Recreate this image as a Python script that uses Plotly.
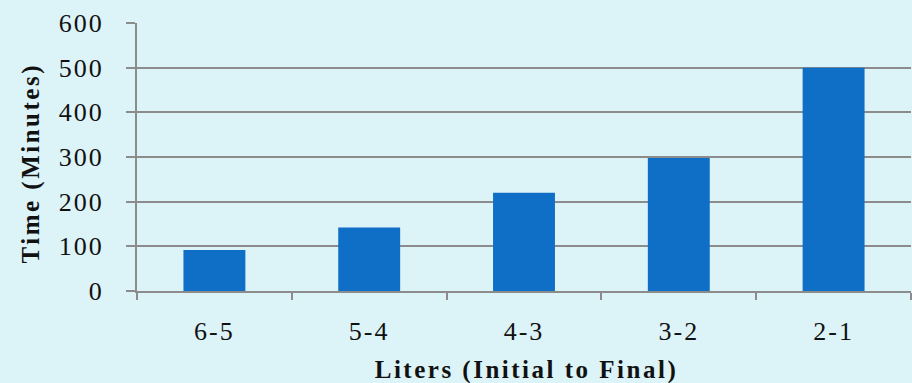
import plotly.graph_objects as go

# Volume steps (liters, initial to final) and the time each step took
categories = ["6-5", "5-4", "4-3", "3-2", "2-1"]
minutes = [92, 142, 220, 298, 500]
y_ticks = [0, 100, 200, 300, 400, 500, 600]

BG = "#DCF3F8"
BAR = "#0F6FC6"
GRID = "#8C8C8C"
SERIF = "Liberation Serif"
INK = "#111111"

fig = go.Figure(
    go.Bar(
        x=categories,
        y=minutes,
        marker=dict(color=BAR, line=dict(width=0)),
        width=0.4,
    )
)

fig.update_layout(
    width=912,
    height=383,
    margin=dict(l=137, r=1, t=23, b=92),
    paper_bgcolor=BG,
    plot_bgcolor=BG,
    showlegend=False,
)

fig.update_xaxes(
    type="category",
    tickson="boundaries",
    ticks="outside",
    ticklen=7,
    tickwidth=2,
    tickcolor=GRID,
    showline=True,
    linecolor=GRID,
    linewidth=2,
    showgrid=False,
    tickfont=dict(family=SERIF, size=26, color=INK),
    ticklabelstandoff=16,
)

fig.update_yaxes(
    range=[0, 600],
    tickvals=y_ticks,
    ticks="outside",
    ticklen=9,
    tickwidth=2,
    tickcolor=GRID,
    showline=True,
    linecolor=GRID,
    linewidth=2,
    showgrid=True,
    gridcolor=GRID,
    gridwidth=2,
    zeroline=False,
    tickfont=dict(family=SERIF, size=26, color=INK),
    ticklabelstandoff=17,
)

# Axis titles placed as annotations relative to the plot area
fig.add_annotation(
    text="<b>Liters (Initial to Final)</b>",
    xref="paper", yref="paper", x=0.5, y=0,
    xanchor="center", yanchor="middle",
    yshift=-79, xshift=2,
    showarrow=False,
    font=dict(family=SERIF, size=25, color=INK),
)
fig.add_annotation(
    text="<b>Time (Minutes)</b>",
    xref="paper", yref="paper", x=0, y=0.5,
    xanchor="center", yanchor="middle",
    xshift=-106, yshift=-6,
    textangle=-90,
    showarrow=False,
    font=dict(family=SERIF, size=25, color=INK),
)

# Slightly spaced lettering for the axis texts
spacing_js = """
var s = document.createElement('style');
s.textContent = '.xtick text, .ytick text {letter-spacing: 2px;} .annotation-text {letter-spacing: 2.5px;}';
document.head.appendChild(s);
"""

fig.write_html("out.html", post_script=spacing_js)
